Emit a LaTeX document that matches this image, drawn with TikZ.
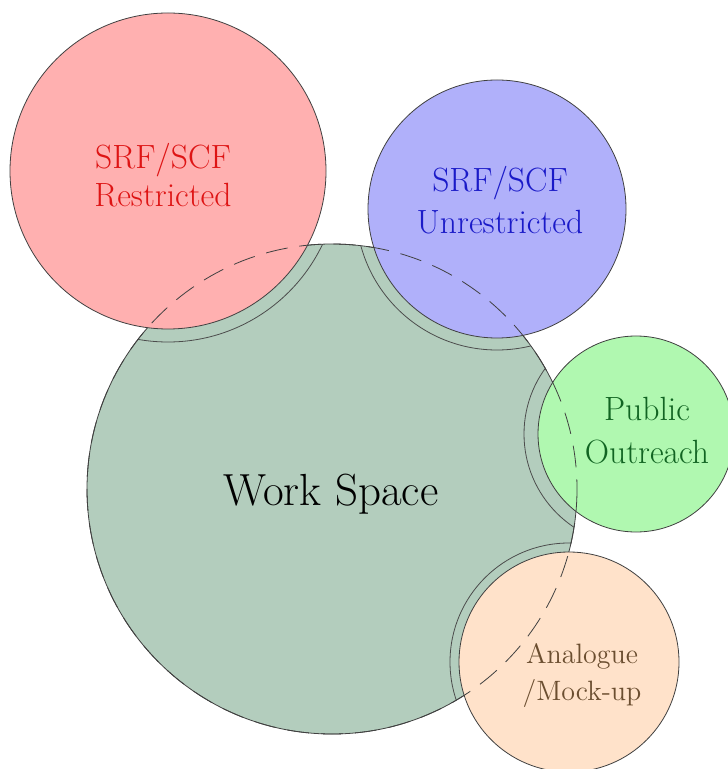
\documentclass[tikz,border=0pt]{standalone}
\usetikzlibrary{positioning}

\definecolor{wsfill}{RGB}{179,205,189}
\definecolor{rfill}{RGB}{255,176,176}
\definecolor{bfill}{RGB}{176,176,250}
\definecolor{gfill}{RGB}{176,248,176}
\definecolor{pfill}{RGB}{255,226,202}
\definecolor{rtext}{RGB}{222,20,20}
\definecolor{btext}{RGB}{26,26,200}
\definecolor{gtext}{RGB}{17,100,34}
\definecolor{ptext}{RGB}{107,78,48}

\tikzset{
  zone/.style={draw=black!75, line width=0.4pt},
  ring/.style={draw=black!70, line width=0.4pt},
  zonelabel/.style={align=center, inner sep=0pt}
}

\begin{document}
\begin{tikzpicture}[x=0.5pt, y=-0.5pt]
      \useasboundingbox (0,0) rectangle (727,769);
      % centres of the spaces
      \coordinate (ws) at (332,489);
      \coordinate (rs) at (168,171);
      \coordinate (un) at (497,209);
      \coordinate (po) at (636,434);
      \coordinate (am) at (569,662);

      % the work space
      \filldraw[zone, fill=wsfill] (ws) circle [radius=245];

      % gaps around the other spaces, kept inside the work space
      \begin{scope}
        \clip (ws) circle [radius=245];
        \draw[ring] (rs) circle [radius=171];
        \draw[ring] (un) circle [radius=141];
        \draw[ring] (po) circle [radius=112];
        \draw[ring] (am) circle [radius=119];
      \end{scope}

      % the other spaces
      \filldraw[zone, fill=rfill] (rs) circle [radius=158];
      \filldraw[zone, fill=bfill] (un) circle [radius=129];
      \filldraw[zone, fill=gfill] (po) circle [radius=98];
      \filldraw[zone, fill=pfill] (am) circle [radius=110];

      % hidden edge of the work space
      \draw[zone, dash pattern=on 11pt off 6pt] (ws) circle [radius=245];

      % labels
      \node[zonelabel, text=rtext, font=\fontsize{16.8}{19}\selectfont] (restricted) at (163,175) {SRF/SCF\\Restricted};
      \node[zonelabel, text=btext, font=\fontsize{16.8}{21}\selectfont] (unrestricted) at (500,200) {SRF/SCF\\Unrestricted};
      \node[zonelabel, text=gtext, font=\fontsize{16.8}{21.5}\selectfont] (outreach) at (647,431) {Public\\Outreach};
      \node[zonelabel, text=ptext, font=\fontsize{14}{18.5}\selectfont] (mockup) at (582,675) {Analogue\\/Mock-up};
      \node[zonelabel, font=\fontsize{22.5}{26}\selectfont] (workspace) at (331,494) {Work Space};
    \end{tikzpicture}
\end{document}
